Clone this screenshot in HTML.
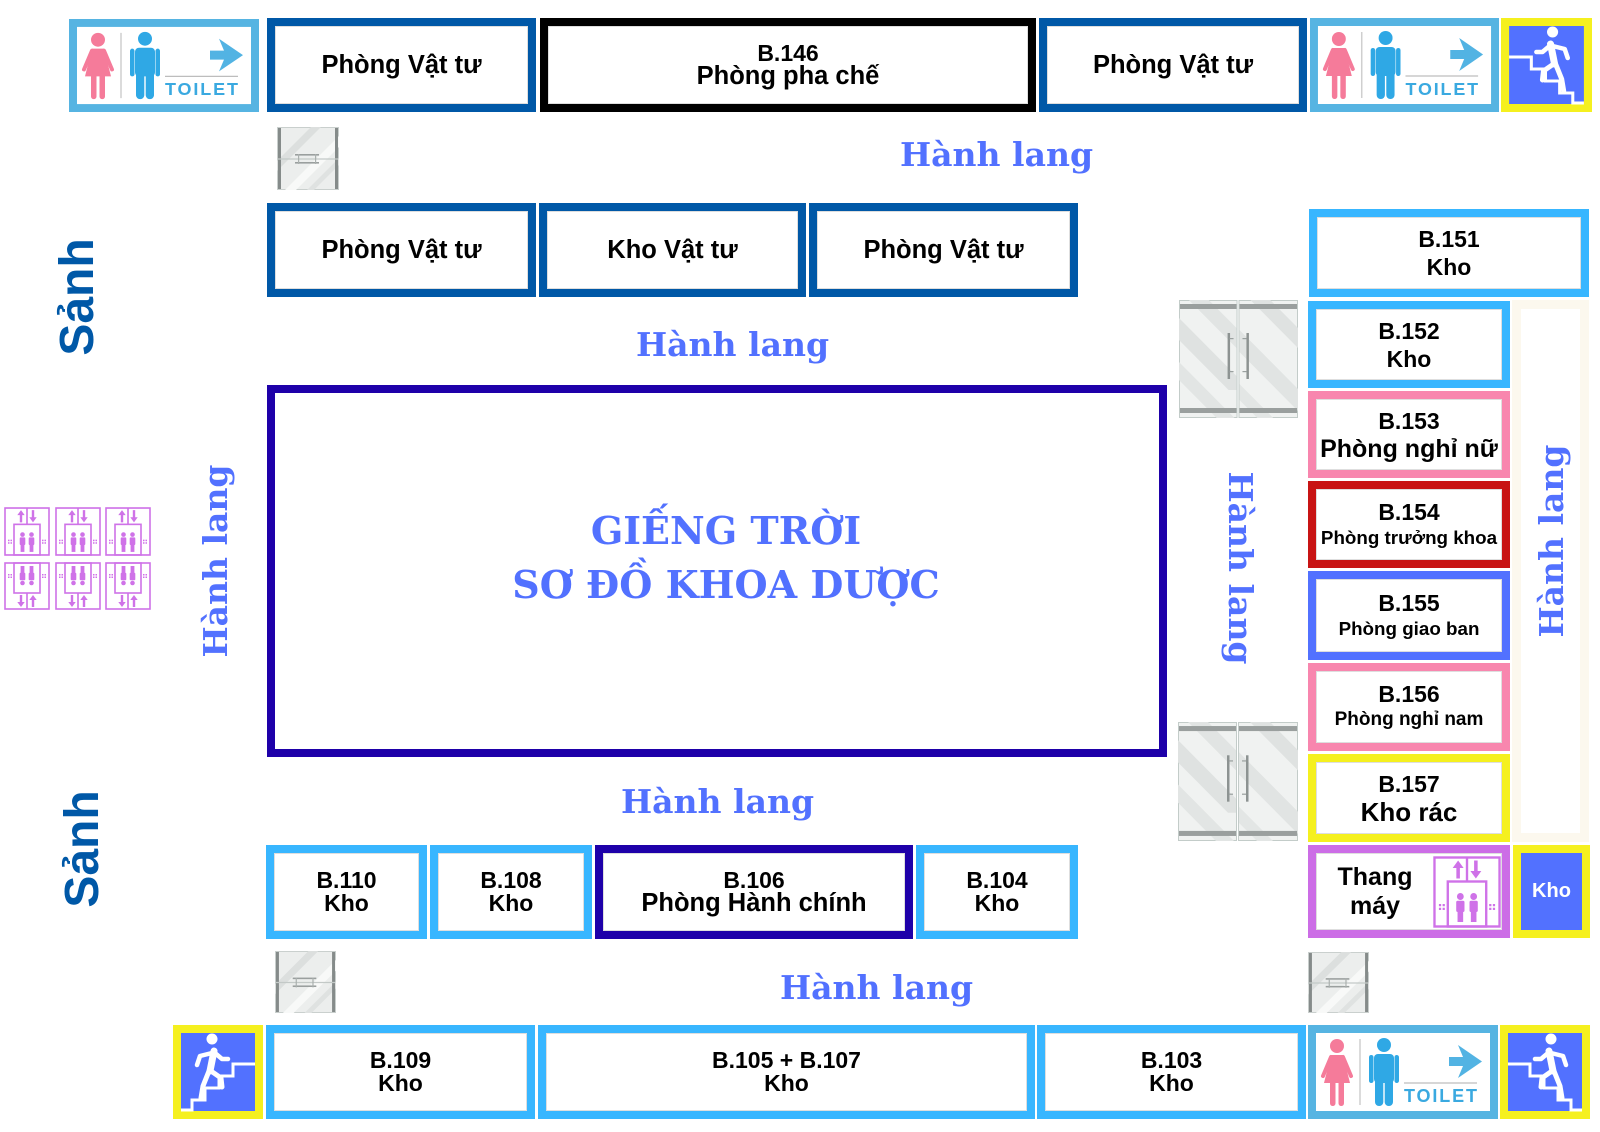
<!DOCTYPE html>
<html><head><meta charset="utf-8">
<style>
html,body{margin:0;padding:0;background:#fff;}
body{width:1600px;height:1132px;position:relative;overflow:hidden;font-family:"Liberation Sans",Arial,sans-serif;}
.b{position:absolute;box-sizing:border-box;border:8px solid #000;background:#fff;display:flex;flex-direction:column;align-items:center;justify-content:center;text-align:center;font-weight:bold;color:#000;font-size:23px;line-height:23px;box-shadow:inset 0 0 0 1px rgba(0,0,0,.13);white-space:nowrap;}
.p{font-size:25.5px;}
.dk{border-color:#0058a7}
.lb{border-color:#38b6ff}
.bk{border-color:#000}
.ind{border-color:#1e00a9}
.pk{border-color:#f886ae}
.rd{border-color:#c81414}
.bl{border-color:#5271ff}
.ye{border-color:#f5f01f}
.pu{border-color:#cc6de6}
.r28{line-height:28px}
.hl{position:absolute;font-family:"DejaVu Serif",serif;font-weight:bold;color:#5271ff;font-size:33px;white-space:nowrap;line-height:34px;}
.vt{position:absolute;transform:translate(-50%,-50%) rotate(-90deg);}
.vt90{position:absolute;transform:translate(-50%,-50%) rotate(90deg);}
.sanh{position:absolute;font-family:"Liberation Sans",Arial,sans-serif;font-weight:bold;color:#0058a7;font-size:48px;line-height:48px;white-space:nowrap;transform:translate(-50%,-50%) rotate(-90deg);}
.title{position:absolute;left:0;width:1452px;text-align:center;font-family:"DejaVu Serif",serif;font-weight:bold;color:#5271ff;font-size:38px;line-height:39px;white-space:nowrap;}
svg.ic{position:absolute;overflow:visible;}
</style>
</head>
<body>
<svg width="0" height="0" style="position:absolute">
<defs>
<symbol id="toilet" viewBox="0 0 190 94" preserveAspectRatio="none">
<rect width="190" height="94" fill="#56b4e2"/>
<rect x="8" y="8" width="174" height="78" fill="#fff"/>
<g fill="#f57b9a">
<circle cx="29" cy="21" r="7"/>
<path d="M23,30 H35 L42,58 H16 Z"/>
<rect x="22" y="55" width="5.5" height="26" rx="2.7"/>
<rect x="30.5" y="55" width="5.5" height="26" rx="2.7"/>
</g>
<g stroke="#f57b9a" stroke-width="4" stroke-linecap="round">
<path d="M23,32 L15,51"/><path d="M35,32 L43,51"/>
</g>
<line x1="52" y1="14" x2="52" y2="80" stroke="#cfcfcf" stroke-width="1.5"/>
<g fill="#2fa8e5">
<circle cx="76" cy="20" r="7"/>
<rect x="66" y="29" width="20" height="29" rx="4"/>
<rect x="61" y="30" width="4.5" height="28" rx="2.2"/>
<rect x="86.5" y="30" width="4.5" height="28" rx="2.2"/>
<rect x="67" y="50" width="8.3" height="31" rx="4"/>
<rect x="76.7" y="50" width="8.3" height="31" rx="4"/>
</g>
<polygon points="141,32 155,32 150,20 174,36.5 150,53 155,41 141,41" fill="#52b3e3"/>
<line x1="96" y1="58" x2="169" y2="58" stroke="#bdbdbd" stroke-width="1.3"/>
<text x="96" y="77" font-family="Liberation Sans, Arial, sans-serif" font-weight="bold" font-size="18" fill="#3aa9e0" textLength="73" lengthAdjust="spacing">TOILET</text>
</symbol>
<symbol id="stairs" viewBox="0 0 90 94" preserveAspectRatio="none">
<rect width="90" height="94" fill="#f5f01f"/>
<rect x="8" y="8" width="74" height="78" fill="#5271ff"/>
<path d="M8,39 H30 V51 H44 V63 H58 V75 H71 V85 H82" fill="none" stroke="#fff" stroke-width="3"/>
<circle cx="51" cy="14" r="5.5" fill="#fff"/>
<g stroke="#fff" stroke-linecap="round" stroke-linejoin="round" fill="none">
<path d="M49,26 L53,46" stroke-width="7"/>
<path d="M48,28 L41,34 L35,34" stroke-width="4.5"/>
<path d="M51,28 L63,31 L66,40" stroke-width="4.5"/>
<path d="M52,46 L42,53 L41,62" stroke-width="5"/>
<path d="M54,46 L60,61 L62,73" stroke-width="5"/>
</g>
</symbol>
<symbol id="elev" viewBox="0 0 46 48" preserveAspectRatio="none">
<g fill="none" stroke="#cf72e8" stroke-width="1.6">
<rect x="1" y="1" width="44" height="46"/>
<line x1="23" y1="1" x2="23" y2="17"/>
<rect x="10" y="17" width="26" height="30"/>
</g>
<g fill="#cf72e8">
<polygon points="17,3 13.3,8 15.8,8 15.8,15 18.2,15 18.2,8 20.7,8"/>
<polygon points="29,15 25.3,10 27.8,10 27.8,3 30.2,3 30.2,10 32.7,10"/>
<circle cx="18.5" cy="27" r="2.3"/>
<rect x="15.7" y="29.8" width="5.6" height="7.5" rx="1"/>
<rect x="16.6" y="35" width="3.8" height="9"/>
<circle cx="27.5" cy="27" r="2.3"/>
<rect x="24.7" y="29.8" width="5.6" height="7.5" rx="1"/>
<rect x="25.6" y="35" width="3.8" height="9"/>
<rect x="4" y="32" width="1.5" height="1.5"/><rect x="6.5" y="32" width="1.5" height="1.5"/>
<rect x="4" y="34.5" width="1.5" height="1.5"/><rect x="6.5" y="34.5" width="1.5" height="1.5"/>
<rect x="38" y="32" width="1.5" height="1.5"/><rect x="40.5" y="32" width="1.5" height="1.5"/>
<rect x="38" y="34.5" width="1.5" height="1.5"/><rect x="40.5" y="34.5" width="1.5" height="1.5"/>
</g>
</symbol>
<symbol id="door1" viewBox="0 0 62 63" preserveAspectRatio="none">
<rect x="0.5" y="0.5" width="61" height="62" fill="#eceeed" stroke="#c9cfcd"/>
<polygon points="0,34 34,0 44,0 0,44" fill="#dcdfde"/>
<polygon points="8,63 62,9 62,20 19,63" fill="#f8f9f8"/>
<polygon points="30,63 62,31 62,38 37,63" fill="#dfe2e1"/>
<rect x="1" y="1" width="3" height="61" fill="#858b8a"/>
<rect x="58" y="1" width="3" height="61" fill="#858b8a"/>
<line x1="1" y1="32" x2="61" y2="32" stroke="#c3c9c7" stroke-width="1.2"/>
<rect x="18" y="27" width="24" height="1.6" fill="#9a9f9e"/>
<rect x="18" y="35" width="24" height="1.6" fill="#9a9f9e"/>
<rect x="21" y="27" width="1.2" height="10" fill="#aab0ae"/>
<rect x="38" y="27" width="1.2" height="10" fill="#aab0ae"/>
</symbol>
<symbol id="door2" viewBox="0 0 120 118" preserveAspectRatio="none">
<rect x="0.5" y="0.5" width="58" height="117" fill="#f0f2f1" stroke="#c3ccc9"/>
<rect x="60.5" y="0.5" width="59" height="117" fill="#f0f2f1" stroke="#c3ccc9"/>
<polygon points="0,18 0,40 50,90 58,90 58,76" fill="#dfe2e1"/>
<polygon points="10,0 30,0 58,28 58,48" fill="#e1e4e3"/>
<polygon points="0,62 0,80 38,118 56,118" fill="#e2e5e4"/>
<polygon points="72,0 92,0 120,28 120,48" fill="#dfe2e1"/>
<polygon points="61,30 61,52 120,111 120,89" fill="#e1e4e3"/>
<polygon points="61,84 61,100 79,118 95,118" fill="#e3e6e5"/>
<rect x="1" y="4" width="57" height="5" fill="#9a9f9e"/>
<rect x="61" y="4" width="58" height="5" fill="#9a9f9e"/>
<rect x="1" y="108" width="57" height="5" fill="#9a9f9e"/>
<rect x="61" y="108" width="58" height="5" fill="#9a9f9e"/>
<rect x="49" y="33" width="2.5" height="46" fill="#8d9392"/>
<rect x="68" y="33" width="2.5" height="46" fill="#8d9392"/>
<rect x="51" y="38" width="4" height="1.2" fill="#9aa09f"/>
<rect x="51" y="71" width="4" height="1.2" fill="#9aa09f"/>
<rect x="64" y="38" width="4" height="1.2" fill="#9aa09f"/>
<rect x="64" y="71" width="4" height="1.2" fill="#9aa09f"/>
</symbol>
</defs>
</svg>

<!-- Row 1 -->
<svg class="ic" style="left:69px;top:19px" width="190" height="93"><use href="#toilet" width="190" height="93"/></svg>
<div class="b dk p" style="left:267px;top:18px;width:269px;height:94px;">Phòng Vật tư</div>
<div class="b bk" style="left:540px;top:18px;width:496px;height:94px;"><div>B.146</div><div class="p">Phòng pha chế</div></div>
<div class="b dk p" style="left:1039px;top:18px;width:268px;height:94px;">Phòng Vật tư</div>
<svg class="ic" style="left:1310px;top:18px" width="189" height="94"><use href="#toilet" width="189" height="94"/></svg>
<svg class="ic" style="left:1501px;top:18px" width="91" height="94"><use href="#stairs" width="91" height="94"/></svg>

<!-- door top-left -->
<svg class="ic" style="left:277px;top:127px" width="62" height="63"><use href="#door1" width="62" height="63"/></svg>

<div class="hl" style="left:900px;top:138px;">Hành lang</div>

<!-- Row 2 -->
<div class="b dk p" style="left:267px;top:203px;width:269px;height:94px;">Phòng Vật tư</div>
<div class="b dk p" style="left:539px;top:203px;width:267px;height:94px;">Kho Vật tư</div>
<div class="b dk p" style="left:809px;top:203px;width:269px;height:94px;">Phòng Vật tư</div>
<div class="b lb r28" style="left:1309px;top:209px;width:280px;height:88px;"><div>B.151</div><div>Kho</div></div>

<div class="hl" style="left:636px;top:328px;">Hành lang</div>

<!-- Giếng trời -->
<div class="b ind" style="left:267px;top:385px;width:900px;height:372px;box-shadow:none;"></div>
<div class="title" style="top:511px;">GIẾNG TRỜI</div>
<div class="title" style="top:565px;">SƠ ĐỒ KHOA DƯỢC</div>

<!-- Sảnh -->
<div class="sanh" style="left:78px;top:297px;">Sảnh</div>
<div class="sanh" style="left:83px;top:849px;">Sảnh</div>

<!-- left elevators -->
<svg class="ic" style="left:4px;top:507px" width="46" height="49"><use href="#elev" width="46" height="49"/></svg>
<svg class="ic" style="left:55px;top:507px" width="46" height="49"><use href="#elev" width="46" height="49"/></svg>
<svg class="ic" style="left:105px;top:507px" width="46" height="49"><use href="#elev" width="46" height="49"/></svg>
<svg class="ic" style="left:4px;top:562px" width="46" height="48"><g transform="translate(0,48) scale(1,-1)"><use href="#elev" width="46" height="48"/></g></svg>
<svg class="ic" style="left:55px;top:562px" width="46" height="48"><g transform="translate(0,48) scale(1,-1)"><use href="#elev" width="46" height="48"/></g></svg>
<svg class="ic" style="left:105px;top:562px" width="46" height="48"><g transform="translate(0,48) scale(1,-1)"><use href="#elev" width="46" height="48"/></g></svg>

<!-- right doors -->
<svg class="ic" style="left:1179px;top:300px" width="119" height="118"><use href="#door2" width="119" height="118"/></svg>
<svg class="ic" style="left:1178px;top:722px" width="120" height="119"><use href="#door2" width="120" height="119"/></svg>

<!-- beige corridor column -->
<div style="position:absolute;left:1512px;top:300px;width:77px;height:542px;box-sizing:border-box;border:9px solid #fcf8ee;background:#fff;"></div>

<!-- vertical Hành lang -->
<div class="hl vt" style="left:216px;top:561px;">Hành lang</div>
<div class="hl vt90" style="left:1240px;top:568px;">Hành lang</div>
<div class="hl vt" style="left:1552px;top:541px;">Hành lang</div>

<!-- right column rooms -->
<div class="b lb r28" style="left:1308px;top:301px;width:202px;height:87px;"><div>B.152</div><div>Kho</div></div>
<div class="b pk r28" style="left:1308px;top:391px;width:202px;height:87px;"><div>B.153</div><div style="font-size:25px">Phòng nghỉ nữ</div></div>
<div class="b rd" style="left:1308px;top:481px;width:202px;height:87px;line-height:25px;"><div>B.154</div><div style="font-size:18.8px">Phòng trưởng khoa</div></div>
<div class="b bl" style="left:1308px;top:571px;width:202px;height:89px;line-height:25px;"><div>B.155</div><div style="font-size:18.8px">Phòng giao ban</div></div>
<div class="b pk" style="left:1308px;top:663px;width:202px;height:88px;line-height:25px;"><div>B.156</div><div style="font-size:19px">Phòng nghỉ nam</div></div>
<div class="b ye r28" style="left:1308px;top:754px;width:202px;height:88px;"><div>B.157</div><div style="font-size:26px">Kho rác</div></div>
<div class="b pu" style="left:1308px;top:845px;width:202px;height:93px;align-items:flex-start;font-size:25px;line-height:29px;"><div style="width:118px;text-align:center;">Thang<br>máy</div></div>
<svg class="ic" style="left:1433px;top:856px" width="68" height="72"><use href="#elev" width="68" height="72"/></svg>
<div class="b ye" style="left:1513px;top:845px;width:77px;height:93px;background:#5271ff;color:#fff;font-size:20px;box-shadow:none;">Kho</div>

<div class="hl" style="left:621px;top:785px;">Hành lang</div>

<!-- middle-bottom row -->
<div class="b lb" style="left:266px;top:845px;width:161px;height:94px;"><div>B.110</div><div>Kho</div></div>
<div class="b lb" style="left:430px;top:845px;width:162px;height:94px;"><div>B.108</div><div>Kho</div></div>
<div class="b ind" style="left:595px;top:845px;width:318px;height:94px;"><div>B.106</div><div class="p">Phòng Hành chính</div></div>
<div class="b lb" style="left:916px;top:845px;width:162px;height:94px;"><div>B.104</div><div>Kho</div></div>

<!-- doors bottom -->
<svg class="ic" style="left:275px;top:951px" width="61" height="62"><use href="#door1" width="61" height="62"/></svg>
<svg class="ic" style="left:1308px;top:952px" width="61" height="61"><use href="#door1" width="61" height="61"/></svg>

<div class="hl" style="left:780px;top:971px;">Hành lang</div>

<!-- bottom row -->
<svg class="ic" style="left:173px;top:1025px" width="90" height="94"><g transform="translate(90,0) scale(-1,1)"><use href="#stairs" width="90" height="94"/></g></svg>
<div class="b lb" style="left:266px;top:1025px;width:269px;height:94px;"><div>B.109</div><div>Kho</div></div>
<div class="b lb" style="left:538px;top:1025px;width:497px;height:94px;"><div>B.105 + B.107</div><div>Kho</div></div>
<div class="b lb" style="left:1037px;top:1025px;width:269px;height:94px;"><div>B.103</div><div>Kho</div></div>
<svg class="ic" style="left:1308px;top:1025px" width="190" height="94"><use href="#toilet" width="190" height="94"/></svg>
<svg class="ic" style="left:1500px;top:1025px" width="90" height="94"><use href="#stairs" width="90" height="94"/></svg>

</body></html>
